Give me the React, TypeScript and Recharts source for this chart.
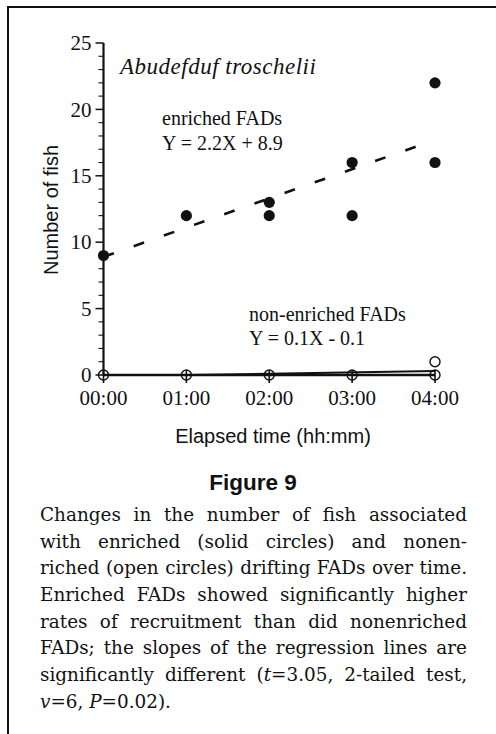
import React from "react"
import { ScatterChart, Scatter, XAxis, YAxis } from "recharts"

// Abudefduf troschelii — fish counts on enriched vs non-enriched drifting FADs

const hours = [0, 1, 2, 3, 4]
const hourLabels = ["00:00", "01:00", "02:00", "03:00", "04:00"]
const yTicks = [0, 1, 2, 3, 4, 5, 6, 7, 8, 9, 10, 11, 12, 13, 14, 15, 16, 17, 18, 19, 20, 21, 22, 23, 24, 25]

const enrichedHours = [0, 1, 2, 2, 3, 3, 4, 4]
const enrichedFish  = [9, 12, 13, 12, 16, 12, 22, 16]

const nonEnrichedHours = [0, 1, 2, 3, 4, 4]
const nonEnrichedFish  = [0, 0, 0, 0, 0, 1]

// regression lines, end points
const fitHours          = [0, 4]
const enrichedFitFish   = [8.9, 17.7]
const nonEnrichedFitFish = [-0.1, 0.3]

const captionLines = [
  "Changes in the number of fish associated",
  "with enriched (solid circles) and nonen-",
  "riched (open circles) drifting FADs over time.",
  "Enriched FADs showed significantly higher",
  "rates of recruitment than did nonenriched",
  "FADs; the slopes of the regression lines are",
]

const INK = "#111"
const SERIF = "'Liberation Serif', 'Times New Roman', serif"
const SANS = "'Liberation Sans', Arial, sans-serif"

const toPoints = (xs: number[], ys: number[]) => xs.map((x, i) => ({ x, y: ys[i] }))

function YTick({ x, y, payload }: any) {
  const v = payload.value as number
  const major = v % 5 === 0
  return (
    <g>
      <line x1={x - (major ? 8 : 5)} x2={x} y1={y} y2={y} stroke={INK} strokeWidth={major ? 1.5 : 1.1} />
      {major && (
        <text x={x - 12} y={y} dy="0.34em" textAnchor="end" fontFamily={SERIF} fontSize={21} fill={INK}>
          {v}
        </text>
      )}
    </g>
  )
}

function XTick({ x, y, payload, index }: any) {
  return (
    <g>
      <line x1={x} x2={x} y1={y - 5} y2={y + 8} stroke={INK} strokeWidth={1.6} />
      <text x={x} y={y + 30} textAnchor="middle" fontFamily={SERIF} fontSize={21} fill={INK}>
        {hourLabels[index] ?? payload.value}
      </text>
    </g>
  )
}

const filledDot = (p: any) => <circle cx={p.cx} cy={p.cy} r={5.6} fill={INK} />
const openDot = (p: any) => <circle cx={p.cx} cy={p.cy} r={5} fill="none" stroke={INK} strokeWidth={1.4} />
const noDot = () => <g />

export default function App() {
  return (
    <div style={{ position: "absolute", left: 0, top: 0, width: 496, height: 734, background: "#fff", overflow: "hidden" }}>
      {/* figure frame, right and bottom edges fall outside the crop */}
      <div style={{ position: "absolute", left: 7, top: 6, width: 520, height: 760, borderLeft: `2px solid ${INK}`, borderTop: `2px solid ${INK}` }} />

      <div style={{ position: "absolute", left: 0, top: 0 }}>
        <ScatterChart width={496} height={420} margin={{ top: 43, right: 61, left: 43.5, bottom: 0 }}>
          <XAxis
            dataKey="x"
            type="number"
            domain={[0, 4]}
            ticks={hours}
            interval={0}
            height={45}
            tickSize={0}
            tickMargin={0}
            tickLine={false}
            tick={<XTick />}
            axisLine={{ stroke: INK, strokeWidth: 2.4 }}
          />
          <YAxis
            dataKey="y"
            type="number"
            domain={[0, 25]}
            ticks={yTicks}
            interval={0}
            width={60}
            tickSize={0}
            tickMargin={0}
            tickLine={false}
            tick={<YTick />}
            axisLine={{ stroke: INK, strokeWidth: 2.2 }}
          />
          <YAxis yAxisId="fit" dataKey="y" type="number" domain={[0, 25]} allowDataOverflow hide />

          <Scatter
            data={toPoints(fitHours, enrichedFitFish)}
            shape={noDot}
            line={{ stroke: INK, strokeWidth: 2.6, strokeDasharray: "11 21" }}
            lineType="joint"
            isAnimationActive={false}
          />
          <Scatter
            yAxisId="fit"
            data={toPoints(fitHours, nonEnrichedFitFish)}
            shape={noDot}
            line={{ stroke: INK, strokeWidth: 2 }}
            lineType="joint"
            isAnimationActive={false}
          />
          <Scatter data={toPoints(nonEnrichedHours, nonEnrichedFish)} shape={openDot} isAnimationActive={false} />
          <Scatter data={toPoints(enrichedHours, enrichedFish)} shape={filledDot} isAnimationActive={false} />
        </ScatterChart>
      </div>

      <svg width={496} height={500} style={{ position: "absolute", left: 0, top: 0, pointerEvents: "none" }}>
        <text x={120} y={74} fontFamily={SERIF} fontStyle="italic" fontSize={23} letterSpacing={0.5} fill={INK}>
          Abudefduf troschelii
        </text>
        <text x={162} y={125} fontFamily={SERIF} fontSize={20} fill={INK}>enriched FADs</text>
        <text x={162} y={150} fontFamily={SERIF} fontSize={20} fill={INK}>Y = 2.2X + 8.9</text>
        <text x={249} y={321} fontFamily={SERIF} fontSize={20} fill={INK}>non-enriched FADs</text>
        <text x={249} y={345} fontFamily={SERIF} fontSize={20} fill={INK}>Y = 0.1X - 0.1</text>

        <text transform="translate(58,210) rotate(-90)" textAnchor="middle" fontFamily={SANS} fontSize={20} fill={INK}>
          Number of fish
        </text>
        <text x={273} y={443} textAnchor="middle" fontFamily={SANS} fontSize={20} fill={INK}>
          Elapsed time (hh:mm)
        </text>
        <text x={253} y={490} textAnchor="middle" fontFamily={SANS} fontWeight="bold" fontSize={22.5} fill={INK}>
          Figure 9
        </text>
      </svg>

      <div
        style={{
          position: "absolute",
          left: 40,
          top: 502,
          width: 427,
          fontFamily: "'DejaVu Serif', serif",
          fontSize: 18.4,
          lineHeight: "26.67px",
          color: INK,
        }}
      >
        {captionLines.map((line) => (
          <div key={line} style={{ textAlign: "justify", textAlignLast: "justify", whiteSpace: "nowrap" }}>
            {line}
          </div>
        ))}
        <div style={{ textAlign: "justify", textAlignLast: "justify", whiteSpace: "nowrap" }}>
          significantly different (<i>t</i>=3.05, 2-tailed test,
        </div>
        <div style={{ whiteSpace: "nowrap" }}>
          <i>v</i>=6, <i>P</i>=0.02).
        </div>
      </div>
    </div>
  )
}
